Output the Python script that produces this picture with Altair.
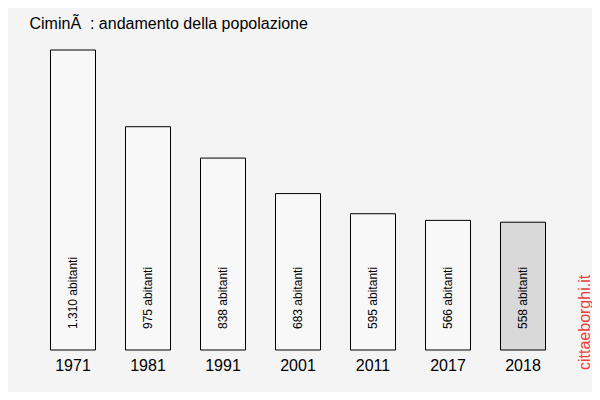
import altair as alt
import pandas as pd

years = ["1971", "1981", "1991", "2001", "2011", "2017", "2018"]
population = [1310, 975, 838, 683, 595, 566, 558]
highlight = [False, False, False, False, False, False, True]

labels = [f"{v:,}".replace(",", ".") + " abitanti" for v in population]

df = pd.DataFrame({"anno": years, "pop": population, "label": labels, "hl": highlight})

x = alt.X("anno:N", sort=years,
          scale=alt.Scale(paddingInner=0.4, paddingOuter=0.2),
          axis=alt.Axis(title=None, labelAngle=0, domain=False, ticks=False,
                        labelFontSize=16, labelFont="Liberation Sans",
                        labelColor="black", labelPadding=7, grid=False))
y = alt.Y("pop:Q", scale=alt.Scale(domain=[0, 1310], nice=False, zero=True), axis=None)

bars = alt.Chart(df).mark_bar(stroke="black", strokeWidth=1).encode(
    x=x, y=y,
    color=alt.Color("hl:N", scale=alt.Scale(domain=[False, True], range=["#f8f8f8", "#d9d9d9"]), legend=None),
)

text = alt.Chart(df).mark_text(angle=270, align="left", baseline="middle", dx=21,
                               fontSize=12, font="Liberation Sans", color="black").encode(
    x=x, y=alt.datum(0), text="label:N"
)

wm = alt.Chart(pd.DataFrame({"t": ["cittaeborghi.it"]})).mark_text(
    angle=270, align="left", baseline="middle", fontSize=16,
    font="Liberation Sans", color="#e8413c"
).encode(x=alt.value(549.5), y=alt.value(320), text="t:N")

chart = alt.layer(bars, text, wm).properties(
    width=525, height=300,
    padding={"left": 27.5, "top": 42, "right": 31.5, "bottom": 42},
    autosize=alt.AutoSizeParams(type="none"),
    background="#f4f4f4",
    title=alt.Title("Cimin\u00c3\u00a0 : andamento della popolazione", anchor="start",
                    fontSize=16, font="Liberation Sans", fontWeight="normal",
                    color="black", dx=-6, offset=18),
).configure_view(stroke=None)

chart.save("out.html", embed_options={"renderer": "svg", "actions": False})
